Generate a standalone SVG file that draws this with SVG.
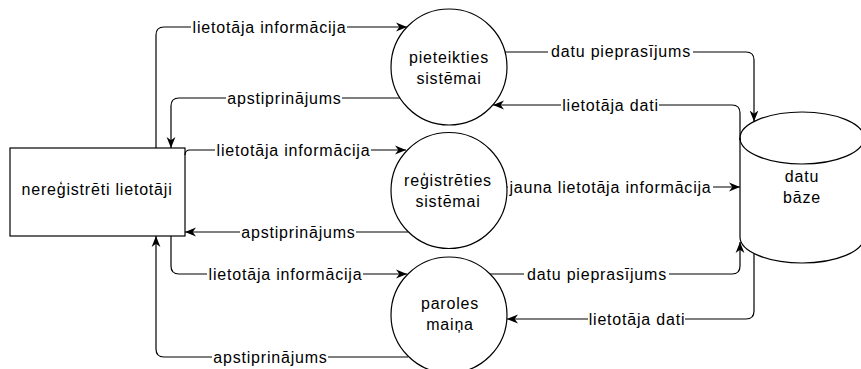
<svg xmlns="http://www.w3.org/2000/svg" width="861" height="369" viewBox="0 0 861 369">
<style>
.n{fill:#fff;stroke:#000;stroke-width:1.2}
.t{font-family:"Liberation Sans",Arial,sans-serif;font-size:16px;letter-spacing:0.8px;fill:#000;text-anchor:middle}
.c{fill:none;stroke:#000;stroke-width:1.2;marker-end:url(#a)}
.lb{fill:#fff}
</style>
<defs>
<marker id="a" viewBox="0 0 10 10" refX="10" refY="5" markerWidth="11" markerHeight="11" markerUnits="userSpaceOnUse" orient="auto">
<path d="M0,1 L10,5 L0,9 L3,5 Z" fill="#000"/>
</marker>
</defs>
<rect width="861" height="369" fill="#fff"/>
<g id="nereg">
<rect class="n" x="10" y="148" width="175" height="88"/>
<text class="t" x="97" y="195">nereģistrēti lietotāji</text>
</g>
<g id="pieteikties">
<circle class="n" cx="449" cy="67" r="58"/>
<text class="t" x="449" y="62.5">pieteikties</text>
<text class="t" x="449" y="83.5">sistēmai</text>
</g>
<g id="registreties">
<circle class="n" cx="449" cy="190.5" r="58"/>
<text class="t" x="448" y="186">reģistrēties</text>
<text class="t" x="448" y="207">sistēmai</text>
</g>
<g id="paroles">
<circle class="n" cx="449" cy="315" r="58"/>
<text class="t" x="450" y="309">paroles</text>
<text class="t" x="450" y="330">maiņa</text>
</g>
<g id="db">
<path class="n" d="M740,138 A62,26 0 0 1 864,138 L864,237 A62,26 0 0 1 740,237 Z"/>
<path d="M740,138 A62,26 0 0 0 864,138" fill="none" stroke="#000" stroke-width="1.2"/>
<text class="t" x="802" y="181.5">datu</text>
<text class="t" x="802" y="202.5">bāze</text>
</g>
<g id="connectors">
<path class="c" d="M156,148 L156,35 Q156,27 164,27 L407,27"/>
<path class="c" d="M400,98 L179,98 Q171,98 171,106 L171,148"/>
<path class="c" d="M185,155 Q185,150 190,150 L406,150"/>
<path class="c" d="M408,232 L185,232"/>
<path class="c" d="M171,236 L171,266 Q171,274 179,274 L407,274"/>
<path class="c" d="M408,357 L164,357 Q156,357 156,349 L156,236"/>
<path class="c" d="M505,52 L746,52 Q754,52 754,60 L754,121.5"/>
<path class="c" d="M740,140 L740,113 Q740,105 732,105 L493,105"/>
<path class="c" d="M507,187 L740,187"/>
<path class="c" d="M490,274 L732,274 Q740,274 740,266 L740,242"/>
<path class="c" d="M754,254 L754,311 Q754,319 746,319 L507,319"/>

<rect class="lb" x="191" y="18" width="156" height="18"/>
<text class="t" x="269.5" y="32.5">lietotāja informācija</text>
<rect class="lb" x="226" y="89" width="116" height="18"/>
<text class="t" x="284.5" y="103.5">apstiprinājums</text>
<rect class="lb" x="215" y="141" width="156" height="18"/>
<text class="t" x="293.5" y="155.5">lietotāja informācija</text>
<rect class="lb" x="240" y="223" width="116" height="18"/>
<text class="t" x="298.5" y="237.5">apstiprinājums</text>
<rect class="lb" x="207" y="265" width="156" height="18"/>
<text class="t" x="285.5" y="279.5">lietotāja informācija</text>
<rect class="lb" x="212" y="348" width="116" height="18"/>
<text class="t" x="270.5" y="362.5">apstiprinājums</text>
<rect class="lb" x="548" y="42" width="145" height="18"/>
<text class="t" x="621" y="56.5">datu pieprasījums</text>
<rect class="lb" x="561" y="96" width="98" height="18"/>
<text class="t" x="610.5" y="110.5">lietotāja dati</text>
<rect class="lb" x="508" y="178" width="205" height="18"/>
<text class="t" x="610.5" y="192.5">jauna lietotāja informācija</text>
<rect class="lb" x="524" y="265" width="145" height="18"/>
<text class="t" x="597" y="279.5">datu pieprasījums</text>
<rect class="lb" x="588" y="310" width="97" height="18"/>
<text class="t" x="637" y="324.5">lietotāja dati</text>
</g>
</svg>
